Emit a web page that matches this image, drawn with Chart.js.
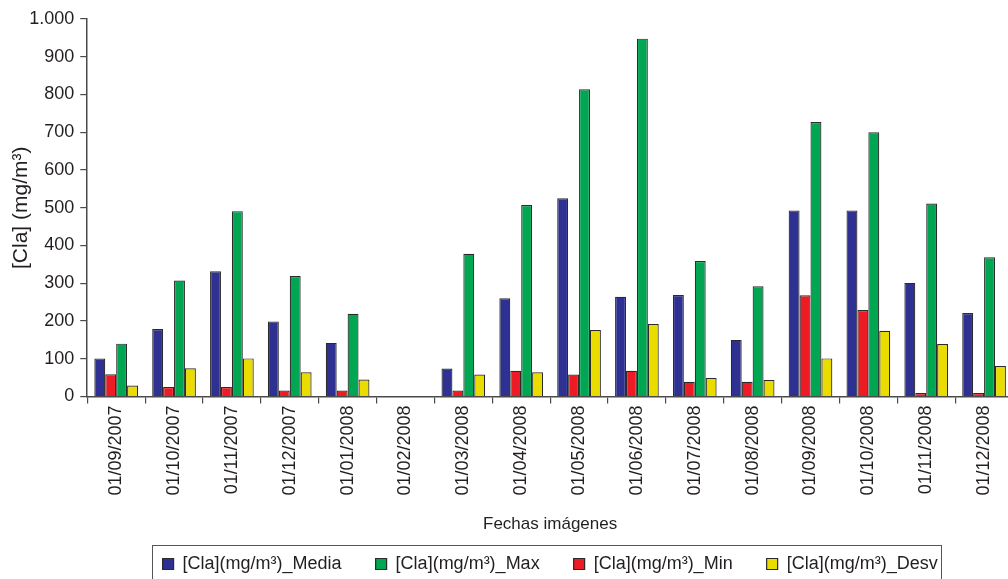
<!DOCTYPE html>
<html>
<head>
<meta charset="utf-8">
<script src="https://cdn.jsdelivr.net/npm/chart.js@4.4.1/dist/chart.umd.min.js"></script>
<style>
  html, body { margin: 0; padding: 0; background: #fff; overflow: hidden; }
  #wrap { width: 1013px; height: 583px; }
</style>
</head>
<body>
<div id="wrap"><canvas id="c" width="1013" height="583"></canvas></div>
<script>
// Monthly chlorophyll-a statistics per image date
const fechas = [
  '01/09/2007', '01/10/2007', '01/11/2007', '01/12/2007', '01/01/2008', '01/02/2008',
  '01/03/2008', '01/04/2008', '01/05/2008', '01/06/2008', '01/07/2008', '01/08/2008',
  '01/09/2008', '01/10/2008', '01/11/2008', '01/12/2008'
];
const media = [101, 179, 332, 199, 142, null, 74, 260, 525, 264, 269, 150, 493, 493, 301, 221];
const minimo = [59, 25, 25, 16, 16, null, 16, 68, 58, 68, 39, 39, 268, 229, 9, 9];
const maximo = [140, 307, 491, 319, 219, null, 378, 507, 814, 948, 359, 292, 727, 700, 511, 369];
const desv = [29, 75, 101, 64, 45, null, 58, 64, 176, 192, 49, 44, 101, 174, 139, 81];
const yTicks = [0, 100, 200, 300, 400, 500, 600, 700, 800, 900, 1000];

const FONT = "'Liberation Sans', Arial, sans-serif";
const TXT = '#231f20';
const AXIS = '#4a4a4a';
const EDGE = '#2b2b2b';

// legend lists Media, Max, Min, Desv while bars are grouped Media, Min, Max, Desv
const legendOrder = [0, 2, 1, 3];

// thin frame around the legend row
const legendFrame = {
  id: 'legendFrame',
  afterDraw(chart) {
    const lg = chart.legend;
    if (!lg || !lg.legendHitBoxes || !lg.legendHitBoxes.length) return;
    const hb = lg.legendHitBoxes;
    const left = Math.min(...hb.map(b => b.left)) - 11;
    const right = Math.max(...hb.map(b => b.left + b.width)) + 3;
    const top = Math.min(...hb.map(b => b.top)) - 10;
    const ctx = chart.ctx;
    ctx.save();
    ctx.strokeStyle = '#555';
    ctx.lineWidth = 1;
    ctx.strokeRect(Math.round(left) + 0.5, Math.round(top) + 0.5, Math.round(right - left), chart.height - top + 10);
    ctx.restore();
  }
};

const ds = (label, data, color) => ({
  label, data,
  backgroundColor: color,
  borderColor: EDGE,
  borderWidth: 1.2,
  borderSkipped: 'bottom',
  categoryPercentage: 0.755,
  barPercentage: 1.0
});

new Chart(document.getElementById('c'), {
  type: 'bar',
  data: {
    labels: fechas,
    datasets: [
      ds('[Cla](mg/m³)_Media', media, '#2e3192'),
      ds('[Cla](mg/m³)_Min', minimo, '#ed1c24'),
      ds('[Cla](mg/m³)_Max', maximo, '#00a651'),
      ds('[Cla](mg/m³)_Desv', desv, '#ebdc00')
    ]
  },
  options: {
    responsive: false,
    animation: false,
    devicePixelRatio: 1,
    layout: { padding: { top: 19, left: 0, right: 0, bottom: 0 } },
    plugins: {
      tooltip: { enabled: false },
      legend: {
        position: 'bottom',
        fullSize: false,
        labels: {
          font: { family: FONT, size: 18 },
          color: TXT,
          boxWidth: 11,
          boxHeight: 11,
          padding: 34,
          sort: (a, b) => legendOrder.indexOf(a.datasetIndex) - legendOrder.indexOf(b.datasetIndex)
        }
      }
    },
    scales: {
      x: {
        grid: { drawOnChartArea: false, offset: true, tickLength: 7, color: AXIS, lineWidth: 1.2 },
        border: { color: AXIS, width: 1.5 },
        ticks: {
          autoSkip: false, minRotation: 90, maxRotation: 90, padding: 2,
          font: { family: FONT, size: 18 }, color: TXT
        },
        title: {
          display: true, text: 'Fechas imágenes',
          font: { family: FONT, size: 17 }, color: TXT,
          padding: { top: 17, bottom: -14 }
        }
      },
      y: {
        min: 0, max: 1000,
        afterBuildTicks: axis => { axis.ticks = yTicks.map(v => ({ value: v })); },
        grid: { drawOnChartArea: false, tickLength: 7, color: AXIS, lineWidth: 1.2 },
        border: { color: AXIS, width: 1.5 },
        ticks: {
          padding: 6,
          font: { family: FONT, size: 18 }, color: TXT,
          callback: v => v.toLocaleString('de-DE')
        },
        title: {
          display: true, text: '[Cla] (mg/m³)',
          font: { family: FONT, size: 21 }, color: TXT,
          padding: { top: 9, bottom: -11 }
        }
      }
    }
  },
  plugins: [legendFrame]
});
</script>
</body>
</html>
